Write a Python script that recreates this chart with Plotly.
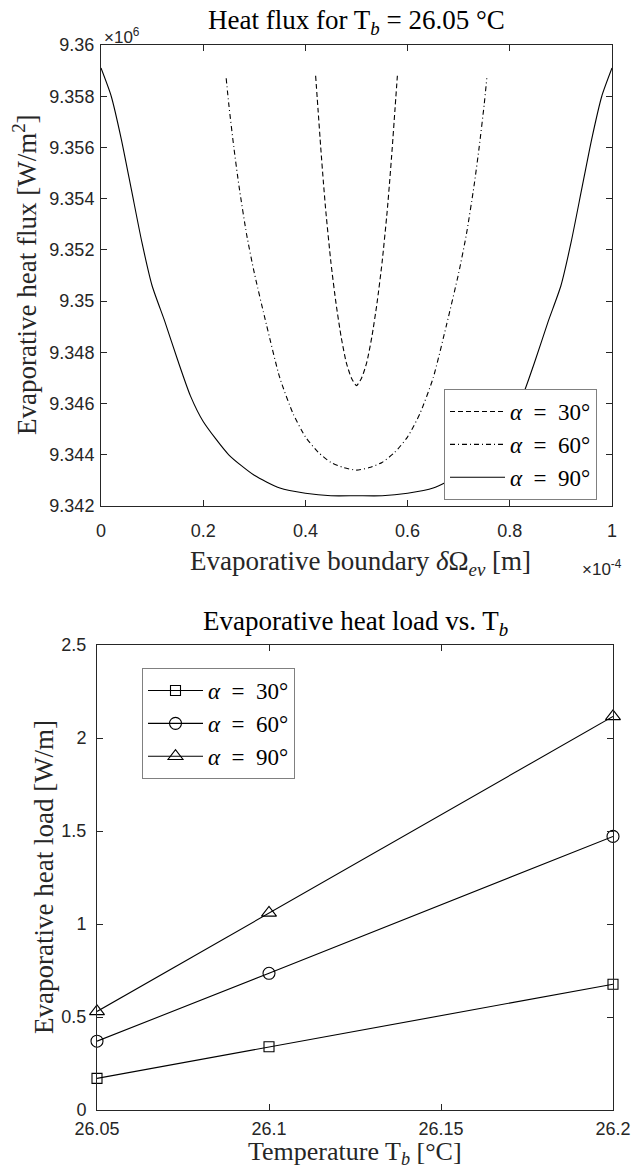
import plotly.graph_objects as go

# ---------------- data ----------------
# Top panel: evaporative heat flux (x in 1e-4 m, y in 1e6 W/m^2)
x30 = [0.420, 0.425, 0.430, 0.435, 0.440, 0.450, 0.460, 0.470, 0.480, 0.490, 0.500,
       0.510, 0.520, 0.530, 0.540, 0.550, 0.560, 0.565, 0.570, 0.575, 0.580]
y30 = [9.3588, 9.3574, 9.3560, 9.3547, 9.3535, 9.3515, 9.3499, 9.3486, 9.3476, 9.3470, 9.3467,
       9.3470, 9.3476, 9.3486, 9.3499, 9.3515, 9.3535, 9.3547, 9.3560, 9.3574, 9.3588]

x60 = [0.245, 0.250, 0.260, 0.270, 0.285, 0.300, 0.3235, 0.350, 0.376, 0.400, 0.425, 0.450, 0.475, 0.500,
       0.525, 0.550, 0.575, 0.600, 0.624, 0.650, 0.6765, 0.700, 0.715, 0.730, 0.740, 0.750, 0.755]
y60 = [9.3587, 9.3577, 9.3560, 9.3545, 9.3526, 9.3511, 9.3491, 9.3470, 9.3456, 9.3447, 9.3441, 9.3437, 9.3435, 9.3434,
       9.3435, 9.3437, 9.3441, 9.3447, 9.3456, 9.3470, 9.3491, 9.3511, 9.3526, 9.3545, 9.3560, 9.3577, 9.3587]

x90 = [0.000, 0.020, 0.040, 0.060, 0.080, 0.100, 0.125, 0.150, 0.175, 0.200, 0.250, 0.300, 0.350, 0.400, 0.450, 0.500,
       0.550, 0.600, 0.650, 0.700, 0.750, 0.800, 0.825, 0.850, 0.875, 0.900, 0.920, 0.940, 0.960, 0.980, 1.000]
y90 = [9.3591, 9.3580, 9.3563, 9.3543, 9.3523, 9.3506, 9.3492, 9.3477, 9.3463, 9.3453, 9.3440, 9.3432, 9.3427, 9.3425, 9.3424, 9.3424,
       9.3424, 9.3425, 9.3427, 9.3432, 9.3440, 9.3453, 9.3463, 9.3477, 9.3492, 9.3506, 9.3523, 9.3543, 9.3563, 9.3580, 9.3591]

top_xticks = [0, 0.2, 0.4, 0.6, 0.8, 1]
top_xticktext = ["0", "0.2", "0.4", "0.6", "0.8", "1"]
top_yticks = [9.342, 9.344, 9.346, 9.348, 9.35, 9.352, 9.354, 9.356, 9.358, 9.36]
top_yticktext = ["9.342", "9.344", "9.346", "9.348", "9.35", "9.352", "9.354", "9.356", "9.358", "9.36"]

# Bottom panel: evaporative heat load vs. Tb
temps = [26.05, 26.1, 26.2]
load30 = [0.17, 0.34, 0.676]
load60 = [0.37, 0.735, 1.471]
load90 = [0.53, 1.06, 2.116]

bot_xticks = [26.05, 26.1, 26.15, 26.2]
bot_xticktext = ["26.05", "26.1", "26.15", "26.2"]
bot_yticks = [0, 0.5, 1, 1.5, 2, 2.5]
bot_yticktext = ["0", "0.5", "1", "1.5", "2", "2.5"]

SP = "\u2002"
labels = [f"<i>α</i>{SP}={SP}30°", f"<i>α</i>{SP}={SP}60°", f"<i>α</i>{SP}={SP}90°"]

# ---------------- figure ----------------
W, H = 633, 1170
AX = "#262626"
SERIF = "Liberation Serif"
SANS = "Liberation Sans"
LBL = 27
TICK = 18

fig = go.Figure()

top_styles = ["5px,3px", "5px,3px,1px,3px", "solid"]
for xs, ys, lab, dash in zip([x30, x60, x90], [y30, y60, y90], labels, top_styles):
    fig.add_trace(go.Scatter(x=xs, y=ys, mode="lines", name=lab,
                             line=dict(color="black", width=1.1, dash=dash, shape="spline", smoothing=0.6),
                             xaxis="x", yaxis="y", legend="legend"))

markers = ["square-open", "circle-open", "triangle-up-open"]
msizes = [10, 12, 13]
for ys, lab, m, ms in zip([load30, load60, load90], labels, markers, msizes):
    fig.add_trace(go.Scatter(x=temps, y=ys, mode="lines+markers", name=lab,
                             line=dict(color="black", width=1.1),
                             marker=dict(symbol=m, size=ms, color="black", line=dict(width=1.1, color="black")),
                             xaxis="x2", yaxis="y2", legend="legend2", cliponaxis=False))

def px(v):
    return v / W

def py(v):
    return 1 - v / H

axis_common = dict(showline=True, linecolor=AX, linewidth=1, mirror="ticks", ticks="inside",
                   ticklen=6, tickcolor=AX, showgrid=False, zeroline=False, automargin=False,
                   tickfont=dict(family=SANS, size=TICK, color=AX))

fig.update_layout(
    width=W, height=H, margin=dict(l=0, r=0, t=0, b=0, autoexpand=False),
    paper_bgcolor="white", plot_bgcolor="white",
    xaxis=dict(domain=[px(101), px(612)], range=[0, 1], tickvals=top_xticks, ticktext=top_xticktext,
               anchor="y", ticklabelstandoff=8, **axis_common),
    yaxis=dict(domain=[py(506), py(45)], range=[9.342, 9.36], tickvals=top_yticks, ticktext=top_yticktext,
               anchor="x", ticklabelstandoff=2, **axis_common),
    xaxis2=dict(domain=[px(97), px(613)], range=[26.05, 26.2], tickvals=bot_xticks, ticktext=bot_xticktext,
                anchor="y2", ticklabelstandoff=2, **axis_common),
    yaxis2=dict(domain=[py(1110), py(645)], range=[0, 2.5], tickvals=bot_yticks, ticktext=bot_yticktext,
                anchor="x2", ticklabelstandoff=6, **axis_common),
    legend=dict(x=px(597), y=py(389), xanchor="right", yanchor="top", xref="paper", yref="paper",
                bgcolor="white", bordercolor="#808080", borderwidth=1,
                font=dict(family=SERIF, size=23, color="black"), itemwidth=55,
                tracegroupgap=0),
    legend2=dict(x=px(142), y=py(668), xanchor="left", yanchor="top", xref="paper", yref="paper",
                 bgcolor="white", bordercolor="#808080", borderwidth=1,
                 font=dict(family=SERIF, size=23, color="black"), itemwidth=55,
                 tracegroupgap=0),
    showlegend=True,
)

annotations = [
    # titles
    dict(text="Heat flux for T<sub><i>b</i></sub> = 26.05 °C", x=px(356), y=py(22),
         font=dict(family=SERIF, size=LBL, color="black")),
    dict(text="Evaporative heat load vs. T<sub><i>b</i></sub>", x=px(355), y=py(623),
         font=dict(family=SERIF, size=LBL, color="black")),
    # axis labels
    dict(text="Evaporative heat flux [W/m<sup>2</sup>]", x=px(25), y=py(275), textangle=-90,
         font=dict(family=SERIF, size=LBL, color=AX)),
    dict(text="Evaporative boundary <i>δ</i>Ω<sub><i>ev</i></sub> [m]", x=px(360), y=py(563),
         font=dict(family=SERIF, size=LBL, color=AX)),
    dict(text="Evaporative heat load [W/m]", x=px(44), y=py(877), textangle=-90,
         font=dict(family=SERIF, size=LBL, color=AX)),
    dict(text="Temperature T<sub><i>b</i></sub> [°C]", x=px(355), y=py(1170), yanchor="bottom",
         font=dict(family=SERIF, size=26, color=AX), borderpad=0),
    # exponent labels
    dict(text="×10<sup>6</sup>", x=px(102), y=py(36), xanchor="left",
         font=dict(family=SANS, size=17, color=AX)),
    dict(text="×10<sup>-4</sup>", x=px(624), y=py(568), xanchor="right",
         font=dict(family=SANS, size=17, color=AX)),
]
for a in annotations:
    a.setdefault("xref", "paper")
    a.setdefault("yref", "paper")
    a.setdefault("showarrow", False)
    a.setdefault("xanchor", "center")
    a.setdefault("yanchor", "middle")
fig.update_layout(annotations=annotations)

fig.write_html("out.html")
